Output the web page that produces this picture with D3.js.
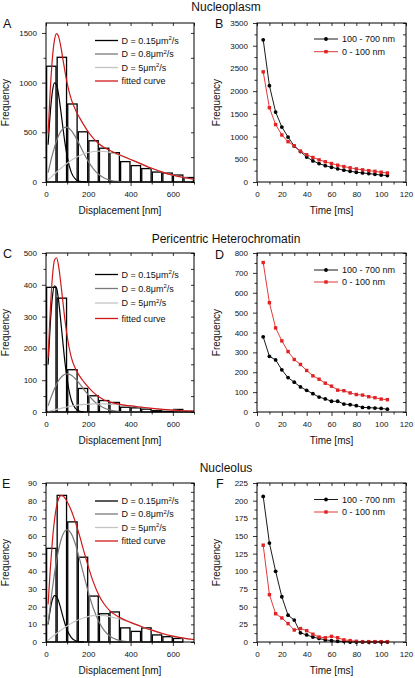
<!DOCTYPE html>
<html><head><meta charset="utf-8">
<script src="https://cdn.jsdelivr.net/npm/d3@7"></script>
<style>
body{margin:0;background:#fff;}
svg{display:block;font-family:"Liberation Sans",Arial,Helvetica,sans-serif;}
</style></head><body>
<svg id="chart" width="415" height="678"></svg>
<script>
// ---------------- DATA ----------------
const panelTitles = ["Nucleoplasm", "Pericentric Heterochromatin", "Nucleolus"];
const panelLetters = ["A","B","C","D","E","F"];

// histograms: 50 nm bins
const binStarts = [0,50,100,150,200,250,300,350,400,450,500,550,600,650];
const binWidth = 50;
const histA = [1165,1255,785,505,415,340,295,205,165,135,100,90,70,45];
const histC = [392,358,133,74,51,36,30,15,13,9,4,2,8,2];
const histE = [53,83,68,48,26,16,17,8,6,8,4,3,2,0];

// fitted curves (displacement nm)
const curveX = [10,20,30,40,50,60,70,80,90,100,120,140,160,180,200,225,250,275,300,350,400,450,500,550,600,650,700];
const slowA = [375,690,906,998,978,873,717,547,388,258,94,27,6,1,0,0,0,0,0,0,0,0,0,0,0,0,0];
const midA  = [95,187,272,349,415,468,509,535,549,549,516,451,370,285,208,130,75,40,20,4,0,0,0,0,0,0,0];
const fastA = [20,41,61,81,100,119,138,155,172,189,219,245,267,284,297,307,310,307,299,268,227,182,138,100,69,45,28];
const fitA  = [490,918,1239,1428,1493,1460,1364,1237,1109,996,829,723,643,570,505,437,385,347,319,272,227,182,138,100,69,45,28];

const slowC = [149,274,360,397,389,348,285,218,154,103,37,11,2,0,0,0,0,0,0,0,0,0,0,0,0,0,0];
const midC  = [19.7,38.8,56.8,73.1,87.4,99.1,108.4,115,118.8,120,115.6,103.9,88,70.4,53.5,35.4,21.7,12.4,6.6,1.5,0.3,0,0,0,0,0,0];
const fastC = [1.7,3.4,5.1,6.8,8.4,10.0,11.5,13.0,14.5,15.8,18.3,20.5,22.4,23.8,24.9,25.7,26,25.7,25.0,22.5,19.1,15.3,11.6,8.4,5.8,3.8,2.4];
const fitC  = [170,316,422,477,485,457,405,346,287,239,171,135,112,94,78,61,48,38,32,24,19,15.3,11.6,8.4,5.8,3.8,2.4];

const slowE = [9.9,18.2,23.9,26.3,25.8,23.0,18.9,14.4,10.2,6.8,2.5,0.7,0.2,0,0,0,0,0,0,0,0,0,0,0,0,0,0];
const midE  = [10.4,20.5,30.0,38.7,46.2,52.4,57.3,60.8,62.9,63.5,61.2,55.0,46.5,37.3,28.3,18.7,11.5,6.6,3.5,0.8,0.1,0,0,0,0,0,0];
const fastE = [1.0,2.0,2.9,3.9,4.8,5.8,6.7,7.5,8.3,9.1,10.6,11.8,12.9,13.7,14.4,14.9,15,14.9,14.4,13.0,11.0,8.8,6.7,4.8,3.3,2.2,1.4];
const fitE  = [21.3,40.7,56.8,68.9,76.8,81.2,82.9,82.7,81.4,79.4,74.3,67.5,59.6,51.0,42.7,33.6,26.5,21.5,17.9,13.8,11.1,8.8,6.7,4.8,3.3,2.2,1.4];

// time series (ms)
const times = [5,10,15,20,25,30,35,40,45,50,55,60,65,70,75,80,85,90,95,100,105];
const farB  = [3130,2120,1540,1210,990,790,670,550,465,405,360,325,290,260,237,215,200,185,170,152,142];
const nearB = [2425,1635,1265,1035,888,795,680,600,540,488,445,407,370,340,312,288,268,250,235,215,198];
const farD  = [378,280,262,212,173,150,126,109,92,75,66,54,54,40,37,32,23,22,20,18,14];
const nearD = [752,550,423,358,304,264,239,209,182,165,145,130,110,107,96,88,85,77,72,65,62];
const farF  = [206,140,100,64,38,31,13,10,7,5,3,2,1,1,0,0,0,0,0,0,0];
const nearF = [137,67,40,34,26,17,19,16,11,7,6,8,6,3,2,1,0.5,0.5,0.5,0.5,0.5];

const histLegend = [
  {pre:"D = 0.15μm", sup:"2", post:"/s"},
  {pre:"D = 0.8μm", sup:"2", post:"/s"},
  {pre:"D = 5μm", sup:"2", post:"/s"},
  {pre:"fitted curve"}
];
const timeLegend = ["100 - 700 nm", "0 - 100 nm"];

// ---------------- STYLE / LAYOUT ----------------
const C_SLOW = "#000", C_MID = "#7a7a7a", C_FAST = "#c4c4c4", C_FIT = "#d01818";
const C_FAR = "#000", C_NEAR = "#e02222";
const TEXT = "#111";
const colL = {x0:46, x1:194}, colR = {x0:257, x1:406};
const rows = [{top:23,bottom:182},{top:253,bottom:412},{top:483,bottom:642}];
const fmt = d3.format("");

const svg = d3.select("#chart");
svg.append("rect").attr("width",415).attr("height",678).attr("fill","#fff");

function styleAxis(s){
  s.select(".domain").remove();
  s.selectAll("line").attr("stroke","#000").attr("stroke-width",0.8);
  s.selectAll("text").attr("font-size",8).attr("fill",TEXT).attr("font-family",'"Liberation Sans",Arial,sans-serif');
}

function drawAxes(g, x, y, w, h, xt, xm, yt, ym){
  g.append("g").attr("transform",`translate(0,${h})`).call(d3.axisBottom(x).tickValues(xt).tickFormat(fmt).tickSize(4).tickPadding(5.5)).call(styleAxis);
  g.append("g").attr("transform",`translate(0,${h})`).call(d3.axisBottom(x).tickValues(xm).tickSize(2.5).tickFormat("")).call(styleAxis);
  g.append("g").call(d3.axisTop(x).tickValues(xt.concat(xm)).tickSize(-3).tickFormat("")).call(styleAxis);
  g.append("g").call(d3.axisLeft(y).tickValues(yt).tickFormat(fmt).tickSize(4).tickPadding(5)).call(styleAxis);
  g.append("g").call(d3.axisLeft(y).tickValues(ym).tickSize(2.5).tickFormat("")).call(styleAxis);
  g.append("g").attr("transform",`translate(${w},0)`).call(d3.axisRight(y).tickValues(yt.concat(ym)).tickSize(-3).tickFormat("")).call(styleAxis);
  g.append("rect").attr("width",w).attr("height",h).attr("fill","none").attr("stroke","#000").attr("stroke-width",1);
}

function axisTitles(col, row, xTitle){
  const cx = (col.x0+col.x1)/2, cy = (row.top+row.bottom)/2;
  svg.append("text").attr("x",cx).attr("y",row.bottom+32).attr("text-anchor","middle")
    .attr("font-size",10).attr("fill",TEXT).text(xTitle);
  svg.append("text").attr("transform",`translate(${col.x0-37},${cy}) rotate(-90)`)
    .attr("text-anchor","middle").attr("font-size",10).attr("fill",TEXT).text("Frequency");
}

function histPanel(row, bars, yMax, yt, ym, series, legTops){
  const w = colL.x1-colL.x0, h = row.bottom-row.top;
  const g = svg.append("g").attr("transform",`translate(${colL.x0},${row.top})`);
  const x = d3.scaleLinear().domain([0,700]).range([0,w]);
  const y = d3.scaleLinear().domain([0,yMax]).range([h,0]);
  g.selectAll("rect.bar").data(binStarts.map((b,i)=>({b,v:bars[i]})).filter(d=>d.v>0))
    .join("rect").attr("class","bar")
    .attr("x",d=>x(d.b)+0.6).attr("width",d=>x(d.b+binWidth)-x(d.b)-1.2)
    .attr("y",d=>y(d.v)).attr("height",d=>h-y(d.v))
    .attr("fill","none").attr("stroke","#000").attr("stroke-width",1.3);
  const line = d3.line().x(d=>x(d[0])).y(d=>y(d[1])).curve(d3.curveMonotoneX);
  series.forEach(s=>{
    let pts = curveX.map((xv,i)=>[xv,s.vals[i]]);
    const z = s.vals.findIndex((v,i)=>i>0 && v===0);
    if (z>0) pts = pts.slice(0,z+1);
    g.append("path").attr("d",line(pts)).attr("fill","none").attr("stroke",s.color).attr("stroke-width",1.2);
  });
  // legend
  series.forEach((s,i)=>{
    const ly = legTops[i];
    svg.append("line").attr("x1",95).attr("x2",118).attr("y1",ly).attr("y2",ly)
      .attr("stroke",s.color).attr("stroke-width",1.3);
    const t = svg.append("text").attr("x",121.5).attr("y",ly+3.2).attr("font-size",9).attr("fill",TEXT);
    const L = histLegend[i];
    t.append("tspan").text(L.pre);
    if (L.sup){
      t.append("tspan").attr("dy",-3.5).attr("font-size",6).text(L.sup);
      t.append("tspan").attr("dy",3.5).text(L.post);
    }
  });
  drawAxes(g, x, y, w, h, [0,200,400,600], [100,300,500,700], yt, ym);
}

function timePanel(row, far, near, yMax, yt, ym, legTops){
  const w = colR.x1-colR.x0, h = row.bottom-row.top;
  const g = svg.append("g").attr("transform",`translate(${colR.x0},${row.top})`);
  const x = d3.scaleLinear().domain([0,120]).range([0,w]);
  const y = d3.scaleLinear().domain([0,yMax]).range([h,0]);
  const line = d3.line().x((d,i)=>x(times[i])).y(d=>y(d));
  g.append("path").attr("d",line(far)).attr("fill","none").attr("stroke",C_FAR).attr("stroke-width",0.9);
  g.selectAll("circle.far").data(far).join("circle").attr("class","far")
    .attr("cx",(d,i)=>x(times[i])).attr("cy",d=>y(d)).attr("r",1.9).attr("fill",C_FAR);
  g.append("path").attr("d",line(near)).attr("fill","none").attr("stroke",C_NEAR).attr("stroke-width",0.9);
  g.selectAll("rect.near").data(near).join("rect").attr("class","near")
    .attr("x",(d,i)=>x(times[i])-1.7).attr("y",d=>y(d)-1.7).attr("width",3.4).attr("height",3.4).attr("fill",C_NEAR);
  // legend
  [[C_FAR,"c"],[C_NEAR,"s"]].forEach(([c,m],i)=>{
    const ly = legTops[i];
    svg.append("line").attr("x1",314).attr("x2",338).attr("y1",ly).attr("y2",ly).attr("stroke",c).attr("stroke-width",0.9);
    if (m==="c") svg.append("circle").attr("cx",326).attr("cy",ly).attr("r",1.9).attr("fill",c);
    else svg.append("rect").attr("x",324.3).attr("y",ly-1.7).attr("width",3.4).attr("height",3.4).attr("fill",c);
    svg.append("text").attr("x",342).attr("y",ly+3.2).attr("font-size",9).attr("fill",TEXT).text(timeLegend[i]);
  });
  drawAxes(g, x, y, w, h, d3.range(0,121,20), d3.range(10,120,20), yt, ym);
}

// ---------------- PANELS ----------------
const fourSeries = (s,m,f,fit)=>[{vals:s,color:C_SLOW},{vals:m,color:C_MID},{vals:f,color:C_FAST},{vals:fit,color:C_FIT}];

histPanel(rows[0], histA, 1600, d3.range(0,1501,500), d3.range(250,1500,500), fourSeries(slowA,midA,fastA,fitA), [40.5,54,67.5,81]);
histPanel(rows[1], histC, 500, d3.range(0,501,100), d3.range(50,500,100), fourSeries(slowC,midC,fastC,fitC), [274.5,288.5,303,318.5]);
histPanel(rows[2], histE, 90, d3.range(0,91,10), d3.range(5,90,10), fourSeries(slowE,midE,fastE,fitE), [501,514,527.5,541]);

timePanel(rows[0], farB, nearB, 3500, d3.range(0,3501,500), d3.range(250,3500,500), [39,51.7]);
timePanel(rows[1], farD, nearD, 800, d3.range(0,801,100), d3.range(50,800,100), [270,282]);
timePanel(rows[2], farF, nearF, 225, d3.range(0,226,25), d3.range(12.5,225,25), [499.5,512]);

rows.forEach((r,i)=>{
  axisTitles(colL, r, "Displacement [nm]");
  axisTitles(colR, r, "Time [ms]");
});

// titles and letters
[11, 242.5, 472].forEach((yy,i)=>{
  svg.append("text").attr("x",226).attr("y",yy).attr("text-anchor","middle").attr("font-size",12).attr("fill",TEXT).text(panelTitles[i]);
});
[[3,28],[215,28],[3,258],[215,259],[2,488],[216,488]].forEach(([xx,yy],i)=>{
  svg.append("text").attr("x",xx).attr("y",yy).attr("font-size",12.5).attr("fill",TEXT).text(panelLetters[i]);
});
</script>
</body></html>
